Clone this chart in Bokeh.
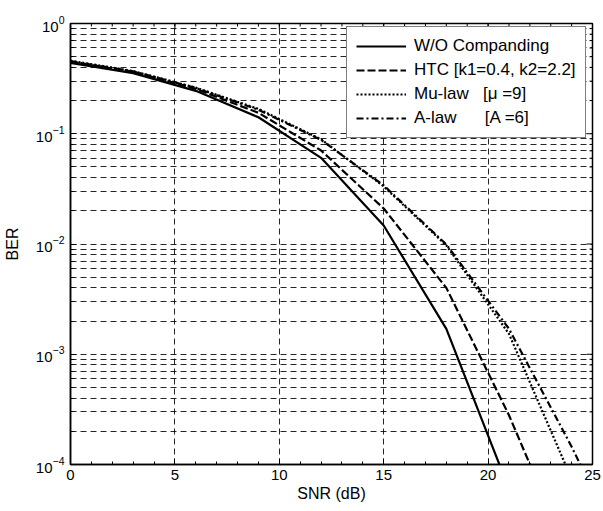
from bokeh.plotting import figure
from bokeh.models import (FixedTicker, Legend, LegendItem, Range1d)
from bokeh.embed import file_html
from bokeh.resources import INLINE

# ---- data ----
snr = [0, 3, 6, 9, 12, 15, 18, 21, 24, 27]
ber_wo = [0.44, 0.355, 0.245, 0.141, 0.0605, 0.0147, 0.0017, 6e-5, 1e-6, 1e-8]
ber_htc = [0.45, 0.365, 0.255, 0.155, 0.0705, 0.021, 0.004, 2.8e-4, 1.3e-5, 5e-7]
ber_mu = [0.46, 0.37, 0.262, 0.168, 0.089, 0.0333, 0.0097, 0.00153, 7.4e-5, 3e-6]
ber_a = [0.455, 0.368, 0.26, 0.165, 0.088, 0.034, 0.0099, 0.0017, 1.45e-4, 1e-5]

x_ticks = [0, 5, 10, 15, 20, 25]
x_minor = list(range(0, 26))
y_ticks = [1e-4, 1e-3, 1e-2, 1e-1, 1]
y_minor = [k * 10.0 ** e for e in range(-4, 0) for k in range(2, 10)]

labels = ["W/O Companding", "HTC [k1=0.4, k2=2.2]",
          "Mu-law\u00a0\u00a0\u00a0[\u03bc =9]", "A-law\u00a0\u00a0\u00a0\u00a0\u00a0\u00a0[A =6]"]

FONT = "Liberation Sans"

p = figure(width=603, height=511, y_axis_type="log", output_backend="svg",
           toolbar_location=None, x_range=Range1d(0, 25), y_range=Range1d(1e-4, 1),
           min_border_left=70, min_border_right=11, min_border_top=23, min_border_bottom=47)
p.background_fill_color = "white"
p.border_fill_color = "white"
p.outline_line_color = "black"
p.outline_line_width = 1.5

# grid
for g in (p.xgrid[0], p.ygrid[0]):
    g.grid_line_color = "black"
    g.grid_line_alpha = 0.85
    g.grid_line_width = 1
    g.grid_line_dash = "6 4"
p.ygrid[0].minor_grid_line_color = "black"
p.ygrid[0].minor_grid_line_alpha = 0.85
p.ygrid[0].minor_grid_line_dash = "6 4"
p.ygrid[0].minor_grid_line_width = 1

# inner ticks on top and right edges (box), from the tick arrays
top_y = y_ticks[-1]
right_x = x_ticks[-1]
p.scatter(x_ticks, [top_y] * len(x_ticks), marker="dash", angle=1.5708, size=12,
          line_color="black", line_width=1)
p.scatter(x_minor, [top_y] * len(x_minor), marker="dash", angle=1.5708, size=6,
          line_color="black", line_width=1)
p.scatter([right_x] * len(y_ticks), y_ticks, marker="dash", size=12,
          line_color="black", line_width=1)
p.scatter([right_x] * len(y_minor), y_minor, marker="dash", size=6,
          line_color="black", line_width=1)

# lines
r1 = p.line(snr, ber_wo, line_color="black", line_width=2.2)
r2 = p.line(snr, ber_htc, line_color="black", line_width=2.2, line_dash="8 3")
r3 = p.line(snr, ber_mu, line_color="black", line_width=2.2, line_dash="2 2")
r4 = p.line(snr, ber_a, line_color="black", line_width=2.2, line_dash="7 3 2 3")

# axes
xa = p.xaxis[0]
xa.ticker = FixedTicker(ticks=x_ticks, minor_ticks=x_minor)
ya = p.yaxis[0]
ya.ticker = FixedTicker(ticks=y_ticks, minor_ticks=y_minor)
for ax in (xa, ya):
    ax.major_label_text_font = FONT
    ax.major_label_text_font_size = "15px"
    ax.major_label_text_color = "black"
    ax.axis_label_text_font = FONT
    ax.axis_label_text_font_size = "16px"
    ax.axis_label_text_font_style = "normal"
    ax.axis_label_text_color = "black"
    ax.axis_line_color = "black"
    ax.axis_line_width = 1.5
    ax.major_tick_in = 6
    ax.major_tick_out = 0
    ax.minor_tick_in = 3
    ax.minor_tick_out = 0
    ax.major_tick_line_color = "black"
    ax.minor_tick_line_color = "black"
xa.axis_label = "SNR (dB)"
ya.axis_label = "BER"
xa.axis_label_standoff = 2
ya.axis_label_standoff = 12
xa.major_label_standoff = 5
ya.major_label_standoff = 6

legend = Legend(items=[LegendItem(label=l, renderers=[r]) for l, r in zip(labels, [r1, r2, r3, r4])],
                location=(276, 326))
legend.label_text_font = FONT
legend.label_text_font_size = "17px"
legend.label_text_color = "black"
legend.glyph_width = 50
legend.glyph_height = 20
legend.label_height = 20
legend.spacing = 4
legend.padding = 9
legend.label_standoff = 8
legend.border_line_color = "black"
legend.border_line_width = 1.2
legend.background_fill_alpha = 1
p.add_layout(legend, "center")

open("out.html", "w").write(file_html(p, INLINE))
